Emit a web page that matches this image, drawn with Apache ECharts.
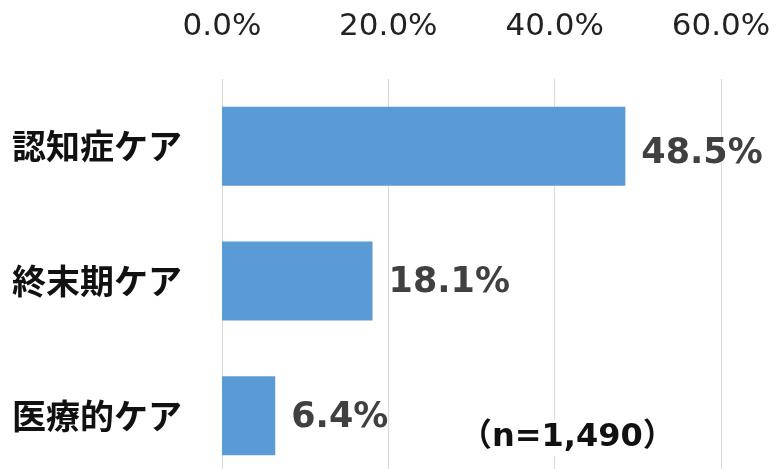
<!DOCTYPE html>
<html>
<head>
<meta charset="utf-8">
<script src="https://cdn.jsdelivr.net/npm/echarts@6/dist/echarts.min.js"></script>
<style>
  html, body { margin: 0; padding: 0; background: #fff; }
  #chart { width: 778px; height: 469px; }
</style>
</head>
<body>
<div id="chart"></div>
<script>
const categories = ['認知症ケア', '終末期ケア', '医療的ケア']
const values = [48.5, 18.1, 6.4]
const axisTicks = [0, 20, 40, 60]
const sampleNote = '（n=1,490）'

const colors = {
  bar: '#5B9BD5',
  grid: '#D9D9D9',
  label: '#404040',
  text: '#111'
}

const myChart = echarts.init(document.getElementById('chart'))

// 一番上のラベルだけ少し下にずれている
const barData = values.map((v, i) => ({
  value: v,
  label: { offset: [0, i === 0 ? 8 : 2] }
}))

const option = {
  animation: false,
  grid: {
    left: 222,
    top: 79,
    width: 499,
    height: 404,
    outerBoundsMode: 'none'
  },
  xAxis: {
    type: 'value',
    position: 'top',
    min: axisTicks[0],
    max: axisTicks[axisTicks.length - 1],
    interval: axisTicks[1] - axisTicks[0],
    axisLine: { show: false },
    axisTick: { show: false },
    axisLabel: {
      margin: 37,
      color: '#222',
      fontSize: 31,
      fontFamily: 'DejaVu Sans',
      formatter: v => v.toFixed(1) + '%'
    },
    splitLine: {
      lineStyle: { color: colors.grid, width: 1 }
    }
  },
  yAxis: {
    type: 'category',
    inverse: true,
    data: categories,
    axisLine: { show: false },
    axisTick: { show: false },
    axisLabel: {
      margin: 40,
      padding: [0, 0, 8, 0],
      color: colors.text,
      fontSize: 34,
      fontWeight: 'bold',
      fontFamily: 'Noto Sans CJK JP'
    }
  },
  series: [
    {
      type: 'bar',
      data: barData,
      barWidth: 79,
      itemStyle: { color: colors.bar },
      label: {
        show: true,
        position: 'right',
        distance: 16,
        color: colors.label,
        fontSize: 35,
        fontWeight: 'bold',
        fontFamily: 'DejaVu Sans',
        formatter: p => p.value.toFixed(1) + '%'
      }
    }
  ],
  graphic: [
    {
      type: 'text',
      left: 456,
      top: 420,
      z: 100,
      style: {
        text: sampleNote,
        fontSize: 32,
        fontWeight: 'bold',
        fontFamily: 'DejaVu Sans, Noto Sans CJK JP',
        fill: colors.text,
        backgroundColor: '#fff',
        padding: [2, 4]
      }
    }
  ]
}

myChart.setOption(option)
</script>
</body>
</html>
